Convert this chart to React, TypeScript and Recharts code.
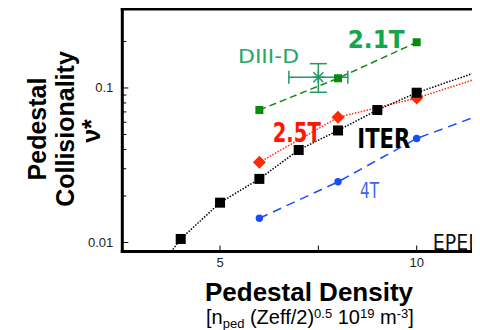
import React from 'react';
import {
  ComposedChart,
  Line,
  Scatter,
  XAxis,
  YAxis,
  ErrorBar,
  ReferenceLine,
  ReferenceDot,
} from 'recharts';

// ---------- data ----------
const blackX = [4, 5, 6, 7, 8, 9, 10];
const blackY = [0.01054, 0.0181, 0.0258, 0.0397, 0.0531, 0.072, 0.0932];
const blackLineX = [3.8, 4, 5, 6, 7, 8, 9, 10, 11.61];
const blackLineY = [0.009, 0.01054, 0.0181, 0.0258, 0.0397, 0.0531, 0.072, 0.0932, 0.1288];

const redX = [6, 8, 10];
const redY = [0.033, 0.0646, 0.0861];
const redLineX = [6, 8, 10, 11.61];
const redLineY = [0.033, 0.0646, 0.0861, 0.1166];

const greenX = [6, 8, 10];
const greenY = [0.072, 0.1156, 0.1976];

const blueX = [6, 8, 10];
const blueY = [0.01434, 0.0247, 0.0471];
const blueLineX = [6, 8, 10, 11.61];
const blueLineY = [0.01434, 0.0247, 0.0471, 0.0668];

const d3dX = [7.5];
const d3dY = [0.1173];
const d3dXErr = [0.75];
const d3dYErr = [[0.0235, 0.0264]];

const xDomain = [2.515, 11.61];
const yDomain = [0.008743, 0.3245];
const xTicks = [5, 7.5, 10];
const xTickLabels = ['5', '', '10'];
const yTicks = [0.01, 0.02, 0.03, 0.04, 0.05, 0.06, 0.07, 0.08, 0.09, 0.1, 0.2];
const yTickLabels = ['0.01', '', '', '', '', '', '', '', '', '0.1', ''];

// annotation anchors (data coordinates: text start / baseline)
const annoText = ['DIII-D', '2.1T', '2.5T', 'ITER', '4T', 'EPED'];
const annoX = [5.458, 8.246, 6.34, 8.49, 8.56, 10.41];
const annoY = [0.1445, 0.1807, 0.0447, 0.0407, 0.0193, 0.00894];

// ---------- helpers ----------
const zip = (xs: number[], ys: number[]) => xs.map((x, i) => ({ x, y: ys[i] }));
const AXF = "'Liberation Sans', Arial, sans-serif";
const ANF = "'DejaVu Sans', sans-serif";

const XTick = (props: any) => {
  const { x, y, payload } = props;
  const i = xTicks.indexOf(payload.value);
  const label = xTickLabels[i];
  return (
    <g>
      <line x1={x} x2={x} y1={y} y2={y - 6} stroke="#000" strokeWidth={1} />
      {label ? (
        <text x={x} y={y + 15} textAnchor="middle" fontSize={13} fill="#222" fontFamily={AXF}>
          {label}
        </text>
      ) : null}
    </g>
  );
};

const YTick = (props: any) => {
  const { x, y, payload } = props;
  const i = yTicks.findIndex((t) => Math.abs(t - payload.value) < 1e-9);
  const label = yTickLabels[i];
  return (
    <g>
      <line x1={x} x2={x + (label ? 6 : 4)} y1={y} y2={y} stroke="#000" strokeWidth={1} />
      {label ? (
        <text x={x - 9} y={y + 4.5} textAnchor="end" fontSize={13} fill="#222" fontFamily={AXF}>
          {label}
        </text>
      ) : null}
    </g>
  );
};

const squareShape = (size: number, color: string) => (p: any) => (
  <rect x={p.cx - size / 2} y={p.cy - size / 2} width={size} height={size} fill={color} />
);
const diamondShape = (r: number, color: string) => (p: any) => (
  <polygon
    points={`${p.cx},${p.cy - r} ${p.cx + r},${p.cy} ${p.cx},${p.cy + r} ${p.cx - r},${p.cy}`}
    fill={color}
  />
);
const circleShape = (r: number, color: string) => (p: any) => (
  <circle cx={p.cx} cy={p.cy} r={r} fill={color} />
);
const asteriskShape = (r: number, color: string) => (p: any) => (
  <g stroke={color} strokeWidth={1.5}>
    <line x1={p.cx - r} y1={p.cy - r} x2={p.cx + r} y2={p.cy + r} />
    <line x1={p.cx - r} y1={p.cy + r} x2={p.cx + r} y2={p.cy - r} />
    <line x1={p.cx} y1={p.cy - r - 1} x2={p.cx} y2={p.cy + r + 1} />
    <line x1={p.cx - r - 1} y1={p.cy} x2={p.cx + r + 1} y2={p.cy} />
  </g>
);

const annoStyles = [
  { color: '#22a865', size: 20, weight: 400, len: 61 },
  { color: '#14a64c', size: 25, weight: 700, len: 57 },
  { color: '#ff1500', size: 26, weight: 700, len: 48 },
  { color: '#000000', size: 27, weight: 700, len: 53 },
  { color: '#3a66ee', size: 21, weight: 400, len: 19 },
  { color: '#111111', size: 22, weight: 400, len: 50 },
];

const annoShape = (i: number) => (p: any) => {
  const s = annoStyles[i];
  return (
    <text
      x={p.cx}
      y={p.cy}
      fill={s.color}
      fontSize={s.size}
      fontWeight={s.weight}
      fontFamily={ANF}
      {...(s.len ? { textLength: s.len, lengthAdjust: 'spacingAndGlyphs' } : {})}
    >
      {annoText[i]}
    </text>
  );
};

const YTitle = () => (
  <g fontFamily={AXF} fontWeight={700} fontSize={25} fill="#000">
    <text x={37.5} y={121} textAnchor="middle" transform="rotate(-90 37.5 121)">
      Pedestal
    </text>
    <text x={66} y={121} textAnchor="middle" transform="rotate(-90 66 121)">
      Collisionality
    </text>
    <text x={92} y={123} textAnchor="middle" transform="rotate(-90 92 123)">
      ν*
    </text>
  </g>
);

const XTitle = () => (
  <g fontFamily={AXF} fill="#000">
    <text x={301} y={292.5} textAnchor="middle" fontSize={26} fontWeight={700} textLength={208} lengthAdjust="spacingAndGlyphs">
      Pedestal Density
    </text>
    <text x={198} y={315.5} fontSize={20}>
      [n
      <tspan fontSize={13} dy={4}>ped</tspan>
      <tspan dy={-4}> (Zeff/2)</tspan>
      <tspan fontSize={13} dy={-6}>0.5</tspan>
      <tspan dy={6}> 10</tspan>
      <tspan fontSize={13} dy={-6}>19</tspan>
      <tspan dy={6}> m</tspan>
      <tspan fontSize={13} dy={-6}>-3</tspan>
      <tspan dy={6}>]</tspan>
    </text>
  </g>
);

export default function App() {
  return (
    <ComposedChart
      width={472}
      height={322}
      margin={{ top: 1, right: 0, bottom: 0, left: 0 }}
    >
      <XAxis
        dataKey="x"
        type="number"
        domain={xDomain}
        allowDataOverflow
        ticks={xTicks}
        interval={0}
        tick={<XTick />}
        tickLine={false}
        tickSize={0}
        tickMargin={0}
        height={78.5}
        axisLine={{ stroke: '#000', strokeWidth: 3, strokeLinecap: 'square' }}
        label={{ content: () => <XTitle /> }}
      />
      <YAxis
        dataKey="y"
        type="number"
        scale="log"
        domain={yDomain}
        allowDataOverflow
        ticks={yTicks}
        interval={0}
        tick={<YTick />}
        tickLine={false}
        tickSize={0}
        tickMargin={0}
        width={114.3}
        axisLine={{ stroke: '#000', strokeWidth: 3, strokeLinecap: 'square' }}
        label={{ content: () => <YTitle /> }}
      />
      <ReferenceLine
        y={yDomain[1]}
        stroke="#000"
        strokeWidth={3}
        strokeLinecap="square"
        ifOverflow="visible"
      />

      <Line
        data={zip(greenX, greenY)}
        dataKey="y"
        stroke="#168a16"
        strokeWidth={1.5}
        strokeDasharray="7 4"
        dot={false}
        isAnimationActive={false}
      />
      <Scatter
        data={zip(greenX, greenY)}
        shape={squareShape(8, '#0a8a0a')}
        isAnimationActive={false}
      />

      <Line
        data={zip(blueLineX, blueLineY)}
        dataKey="y"
        stroke="#1a4cff"
        strokeWidth={1.5}
        strokeDasharray="9 6"
        dot={false}
        isAnimationActive={false}
      />
      <Scatter
        data={zip(blueX, blueY)}
        shape={circleShape(3.7, '#1a4cff')}
        isAnimationActive={false}
      />

      <Line
        data={zip(redLineX, redLineY)}
        dataKey="y"
        stroke="#ff2a10"
        strokeWidth={1.5}
        strokeDasharray="1.5 1.5"
        dot={false}
        isAnimationActive={false}
      />
      <Scatter
        data={zip(redX, redY)}
        shape={diamondShape(6.5, '#ff2a00')}
        isAnimationActive={false}
      />

      <Line
        data={zip(blackLineX, blackLineY)}
        dataKey="y"
        stroke="#000"
        strokeWidth={1.5}
        strokeDasharray="1.5 1.5"
        dot={false}
        isAnimationActive={false}
      />
      <Scatter
        data={zip(blackX, blackY)}
        shape={squareShape(10, '#000')}
        isAnimationActive={false}
      />

      <Scatter
        data={d3dX.map((x, i) => ({ x, y: d3dY[i], ex: d3dXErr[i], ey: d3dYErr[i] }))}
        shape={asteriskShape(5, '#1f9a63')}
        isAnimationActive={false}
      >
        <ErrorBar dataKey="ex" direction="x" width={6.5} stroke="#1f9a63" strokeWidth={1.5} />
        <ErrorBar dataKey="ey" direction="y" width={8.5} stroke="#1f9a63" strokeWidth={1.5} />
      </Scatter>

      {annoText.map((t, i) => (
        <ReferenceDot
          key={t}
          x={annoX[i]}
          y={annoY[i]}
          r={0}
          ifOverflow="visible"
          shape={annoShape(i)}
        />
      ))}
    </ComposedChart>
  );
}
